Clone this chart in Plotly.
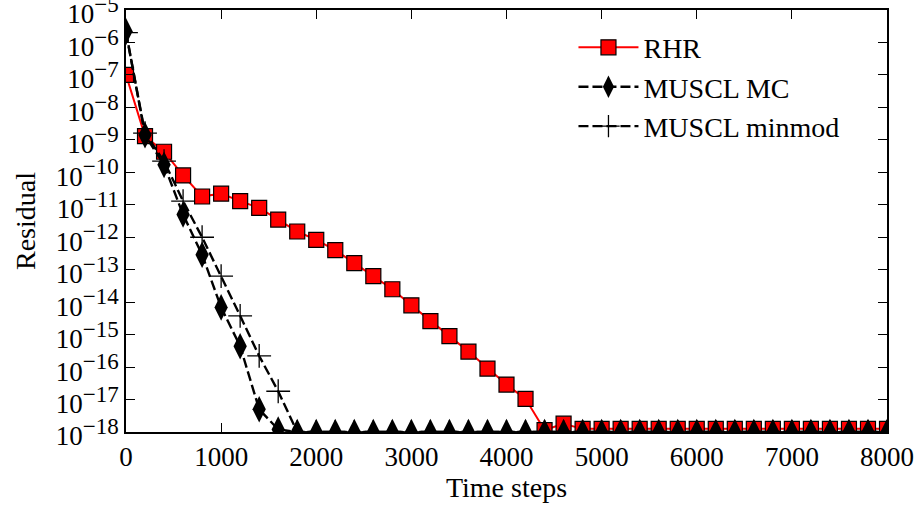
import plotly.graph_objects as go

steps = list(range(0, 8001, 200))

rhr = [1.0e-7, 1.3e-9, 4.3e-10, 8.0e-11, 1.8e-11, 2.2e-11, 1.3e-11, 8.0e-12,
       3.5e-12, 1.5e-12, 8.3e-13, 4.0e-13, 1.6e-13, 6.3e-14, 2.5e-14, 8.0e-15,
       2.6e-15, 9.0e-16, 3.0e-16, 9.0e-17, 2.9e-17, 1.05e-17, 1.15e-18, 1.8e-18] + [1.25e-18] * 17

muscl_mc = [2.2e-6, 1.4e-9, 1.7e-10, 5.0e-12, 2.9e-13, 6.9e-15, 4.4e-16, 5.0e-18,
            1.2e-18] + [1.0e-18] * 32

muscl_minmod = [2.0e-6, 1.6e-9, 2.2e-10, 1.3e-11, 1.0e-12, 6.3e-14, 3.8e-15, 2.2e-16,
                1.8e-17] + [1.0e-18] * 32

y_exponents = list(range(-18, -4))
y_ticks = [float(f"1e{e}") for e in y_exponents]
y_ticktext = [f"10<sup><span style='font-size:23px'>\u2212{-e}</span></sup>" for e in y_exponents]
x_ticks = list(range(0, 8001, 1000))

FONT = "Liberation Serif"

fig = go.Figure()
fig.add_trace(go.Scatter(
    x=steps, y=rhr, name="RHR", mode="lines+markers",
    line=dict(color="#ff0000", width=2),
    marker=dict(symbol="square", size=15, color="#ff0000",
                line=dict(color="black", width=1.2)),
))
fig.add_trace(go.Scatter(
    x=steps, y=muscl_mc, name="MUSCL MC", mode="lines+markers",
    line=dict(color="black", width=2.4, dash="10px,4px"),
    marker=dict(symbol="diamond-tall", size=19, color="black",
                line=dict(color="black", width=0)),
))
fig.add_trace(go.Scatter(
    x=steps, y=muscl_minmod, name="MUSCL minmod", mode="lines+markers",
    line=dict(color="black", width=2.4, dash="10px,4px"),
    marker=dict(symbol="cross-thin", size=17, color="black",
                line=dict(color="black", width=1.3)),
))

axis_common = dict(
    showline=True, linecolor="black", linewidth=1.5, mirror="ticks",
    ticks="inside", ticklen=9, tickwidth=1.2, tickcolor="black",
    showgrid=False, zeroline=False, automargin=False,
    ticklabeloverflow="allow",
)

fig.update_xaxes(
    range=[0, 8000], tickvals=x_ticks, ticktext=[str(v) for v in x_ticks],
    tickfont=dict(family=FONT, size=27, color="black"),
    title=dict(text="Time steps", font=dict(family=FONT, size=28, color="black"), standoff=2),
    **axis_common,
)
fig.update_yaxes(
    type="log", range=[-18, -5], tickvals=y_ticks, ticktext=y_ticktext,
    tickfont=dict(family=FONT, size=27, color="black"), ticklabelshift=4,
    title=dict(text="Residual", font=dict(family=FONT, size=28, color="black"), standoff=12),
    **axis_common,
)

fig.update_layout(
    width=920, height=508,
    margin=dict(l=126, r=33, t=10, b=76),
    paper_bgcolor="white", plot_bgcolor="white",
    font=dict(family=FONT, color="black"),
    showlegend=True,
    legend=dict(
        x=0.588, y=0.97, xanchor="left", yanchor="top",
        bgcolor="rgba(0,0,0,0)", borderwidth=0,
        font=dict(family=FONT, size=28, color="black"),
        itemwidth=60, tracegroupgap=4,
    ),
)

# remove the default 8px page margin so the figure fills the 920x508 window exactly
fig.write_html("out.html", config={"displayModeBar": False},
               post_script="document.body.style.margin='0';")
